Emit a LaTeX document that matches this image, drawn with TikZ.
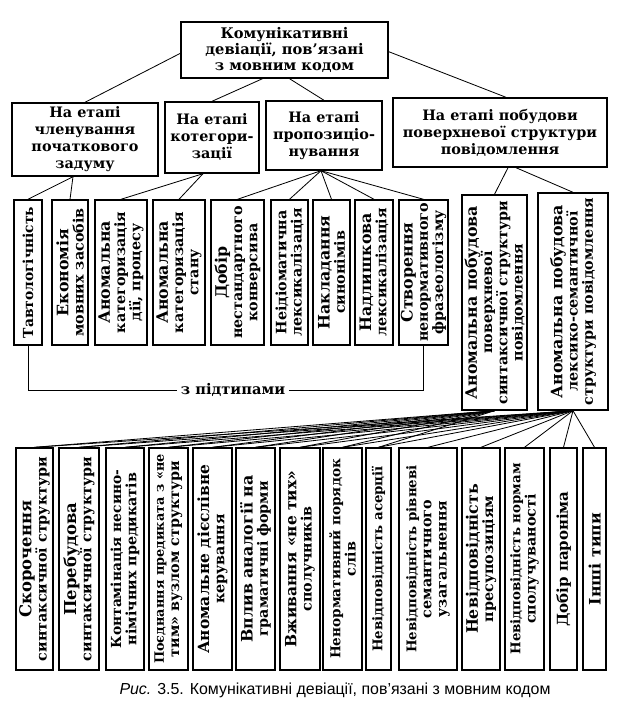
\documentclass[tikz,border=0pt]{standalone}
\usepackage{fontspec}
\setmainfont{DejaVu Serif}
\newfontfamily\capfont{Liberation Sans}
\newcommand{\fl}[2][13.5]{{\fontsize{#1}{13}\selectfont #2}}
\tikzset{
    devBox/.style={
        draw=black,
        fill=white,
        line width=1.2pt,
        inner sep=1pt,
        align=center,
        font=\bfseries\fontsize{12.2}{13}\selectfont
    },
    stageBox/.style 2 args={devBox, minimum width=#1*0.03cm, minimum height=#2*0.03cm,
        font=\bfseries\fontsize{12.3}{14.5}\selectfont},
    typeBox/.style 2 args={devBox, rotate=90, minimum width=#1*0.03cm, minimum height=#2*0.03cm},
    link/.style={line width=0.7pt}
}

\begin{document}
\begin{tikzpicture}[x=0.03cm, y=-0.03cm]
    \useasboundingbox (0,0) rectangle (635,709);

    % Root
    \node[stageBox={207}{56}, font=\bfseries\fontsize{12.5}{14}\selectfont] (Root) at (284.5,50)
        {Комунікативні\\девіації, пов’язані\\з мовним кодом};

    % Stages
    \node[stageBox={146}{73}] (StageA) at (85,139.5) {На етапі\\членування\\початкового\\задуму};
    \node[stageBox={94}{71}] (StageB) at (212,137.5) {На етапі\\котегори-\\зації};
    \node[stageBox={116}{69}] (StageC) at (324,135.5) {На етапі\\пропозиціо-\\нування};
    \node[stageBox={214}{69}] (StageD) at (500,132.5) {На етапі побудови\\поверхневої структури\\повідомлення};

    % Types
    \node[typeBox={145}{28}] (Type1) at (28,272.5) {\fl[11.8]{Тавтологічність}};
    \node[typeBox={145}{36}] (Type2) at (70,272.5) {\fl{Економія}\\мовних засобів};
    \node[typeBox={145}{52}] (Type3) at (121,272.5) {\fl{Аномальна}\\категоризація\\дії, процесу};
    \node[typeBox={145}{52}] (Type4) at (179,272.5) {\fl{Аномальна}\\категоризація\\стану};
    \node[typeBox={145}{53}] (Type5) at (237.5,272.5) {\fl{Добір}\\нестандартного\\конверсива};
    \node[typeBox={145}{37}] (Type6) at (289.5,272.5) {\fl[12.2]{Неідіоматична}\\лексикалізація};
    \node[typeBox={145}{37}] (Type7) at (331.5,272.5) {\fl{Накладання}\\синонімів};
    \node[typeBox={145}{38}] (Type8) at (374,272.5) {\fl{Надлишкова}\\лексикалізація};
    \node[typeBox={145}{49}] (Type9) at (423.5,272.5) {\fl{Створення}\\ненормативного\\фразеологізму};
    \node[typeBox={215}{65}] (TypeSyn) at (494.5,302.5) {\fl{Аномальна побудова}\\поверхневої\\синтаксичної структури\\повідомлення};
    \node[typeBox={217}{70}] (TypeSem) at (573,301.5) {\fl{Аномальна побудова}\\лексико-семантичної\\структури повідомлення};

    % Subtypes
    \node[typeBox={222}{37}] (Sub1) at (34.5,559) {\fl[14]{Скорочення}\\синтаксичної структури};
    \node[typeBox={222}{40}] (Sub2) at (79,559) {\fl[14]{Перебудова}\\синтаксичної структури};
    \node[typeBox={222}{38}] (Sub3) at (125,559) {\fl[11.8]{Контамінація несино-}\\німічних предикатів};
    \node[typeBox={222}{39}] (Sub4) at (168.5,559) {\fl[11]{Поєднання предиката з «не}\\тим» вузлом структури};
    \node[typeBox={222}{39}] (Sub5) at (212.5,559) {\fl[13.2]{Аномальне дієслівне}\\керування};
    \node[typeBox={222}{39}] (Sub6) at (255.5,559) {\fl[13.5]{Вплив аналогії на}\\граматичні форми};
    \node[typeBox={222}{40}] (Sub7) at (300,559) {\fl[13.2]{Вживання «не тих»}\\сполучників};
    \node[typeBox={222}{39}] (Sub8) at (342.5,559) {\fl[11.6]{Ненормативний порядок}\\слів};
    \node[typeBox={222}{25}] (Sub9) at (378.5,559) {\fl[11.4]{Невідповідність асерції}};
    \node[typeBox={222}{58}] (Sub10) at (428,559) {\fl[11.4]{Невідповідність рівневі}\\семантичного\\узагальнення};
    \node[typeBox={222}{38}] (Sub11) at (481,559) {\fl[13.5]{Невідповідність}\\пресупозиціям};
    \node[typeBox={222}{39}] (Sub12) at (524.5,559) {\fl[11.4]{Невідповідність нормам}\\сполучуваності};
    \node[typeBox={222}{27}] (Sub13) at (563.5,559) {\fl[12.8]{Добір пароніма}};
    \node[typeBox={222}{23}] (Sub14) at (594.5,559) {\fl[13.5]{Інші типи}};

    % Links root - stages
    \draw[link] ([yshift=-0.1cm]Root.west) -- (StageA.north);
    \draw[link] ([xshift=-0.66cm]Root.south) -- (StageB.north);
    \draw[link] ([xshift=0.15cm]Root.south) -- (StageC.north);
    \draw[link] ([yshift=-0.05cm]Root.east) -- ([xshift=0.18cm]StageD.north);

    % Links stages - types
    \draw[link] ([xshift=-0.36cm]StageA.south) -- (Type1.east);
    \draw[link] ([xshift=-0.36cm]StageA.south) -- (Type2.east);
    \draw[link] ([xshift=-0.27cm]StageB.south) -- (Type3.east);
    \draw[link] ([xshift=-0.27cm]StageB.south) -- (Type4.east);
    \foreach \i in {5,...,9}
        \draw[link] ([xshift=-0.09cm]StageC.south) -- (Type\i.east);
    \draw[link] ([xshift=0.24cm]StageD.south) -- (TypeSyn.east);
    \draw[link] ([xshift=0.48cm]StageD.south) -- (TypeSem.east);

    % With subtypes
    \node[font=\bfseries\fontsize{12.5}{14}\selectfont, inner sep=3pt] (Subtypes) at (233,390) {з підтипами};
    \draw[link] (Type1.west) |- (Subtypes.west);
    \draw[link] (Subtypes.east) -| (Type9.west);

    % Links types - subtypes
    \foreach \i in {1,...,9}
        \draw[link] (TypeSyn.west) -- (Sub\i.east);
    \foreach \i in {1,...,14}
        \draw[link] (TypeSem.west) -- (Sub\i.east);

    % Caption
    \node[font=\capfont\fontsize{13.6}{16}\selectfont] (Caption) at (335,690)
        {\textit{Рис. }3.5. Комунікативні девіації, пов’язані з мовним кодом};
\end{tikzpicture}
\end{document}
